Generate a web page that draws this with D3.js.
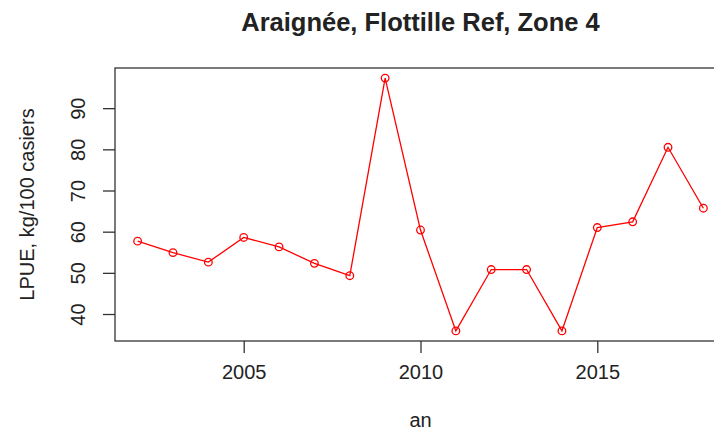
<!DOCTYPE html>
<meta charset="utf-8">
<script src="https://d3js.org/d3.v7.min.js"></script>
<style>
  body { margin: 0; background: #fff; }
  text { font-family: "Liberation Sans", Arial, sans-serif; fill: #222; }
</style>
<div id="my_dataviz"></div>
<script>

// data
var years = [2002, 2003, 2004, 2005, 2006, 2007, 2008, 2009, 2010,
             2011, 2012, 2013, 2014, 2015, 2016, 2017, 2018];
var lpue  = [57.7, 54.9, 52.6, 58.6, 56.3, 52.3, 49.3, 97.3, 60.4,
             35.9, 50.8, 50.8, 35.9, 61.0, 62.4, 80.5, 65.7];
var xTicks = [2005, 2010, 2015];
var yTicks = [40, 50, 60, 70, 80, 90];

var W = 714, H = 432;
// plot box (right edge falls outside the picture, as in the reference)
var margin = {top: 68, left: 115, bottom: 341, right: 726};

var svg = d3.select("#my_dataviz")
  .append("svg")
    .attr("width", W)
    .attr("height", H);

// R style: extend ranges by 4% each side
function rDomain(ext) {
  var pad = (ext[1] - ext[0]) * 0.04;
  return [ext[0] - pad, ext[1] + pad];
}

var x = d3.scaleLinear()
  .domain(rDomain(d3.extent(years)))
  .range([margin.left, margin.right]);

var y = d3.scaleLinear()
  .domain(rDomain(d3.extent(lpue)))
  .range([margin.bottom, margin.top]);

// box
svg.append("rect")
  .attr("x", margin.left)
  .attr("y", margin.top)
  .attr("width", margin.right - margin.left)
  .attr("height", margin.bottom - margin.top)
  .attr("fill", "none")
  .attr("stroke", "#333")
  .attr("stroke-width", 1.3);

// X axis
var xAxis = svg.append("g")
  .attr("transform", "translate(0," + margin.bottom + ")")
  .call(d3.axisBottom(x).tickValues(xTicks).tickFormat(d3.format("d")).tickSize(12).tickSizeOuter(0));
xAxis.select(".domain").remove();
xAxis.selectAll("line").attr("stroke", "#333").attr("stroke-width", 1.3);
xAxis.selectAll("text")
  .attr("y", 24)
  .attr("dy", "0.71em")
  .style("font-size", "20px")
  .style("font-family", "Liberation Sans, Arial, sans-serif")
  .attr("fill", "#222");

// Y axis, labels parallel to the axis
var yAxis = svg.append("g")
  .attr("transform", "translate(" + margin.left + ",0)")
  .call(d3.axisLeft(y).tickValues(yTicks).tickSize(12).tickSizeOuter(0));
yAxis.select(".domain").remove();
yAxis.selectAll("line").attr("stroke", "#333").attr("stroke-width", 1.3);
yAxis.selectAll("text")
  .attr("x", null).attr("dy", null)
  .attr("transform", "translate(-37,0) rotate(-90)")
  .attr("dy", "0.35em")
  .style("text-anchor", "middle")
  .style("font-size", "20px")
  .style("font-family", "Liberation Sans, Arial, sans-serif")
  .attr("fill", "#222");

// line
var pts = years.map(function(d, i) { return [d, lpue[i]]; });
svg.append("path")
  .datum(pts)
  .attr("fill", "none")
  .attr("stroke", "#ff0000")
  .attr("stroke-width", 1.3)
  .attr("d", d3.line()
    .x(function(d) { return x(d[0]); })
    .y(function(d) { return y(d[1]); }));

// open circles
svg.selectAll("circle.pt")
  .data(pts)
  .enter()
  .append("circle")
    .attr("class", "pt")
    .attr("cx", function(d) { return x(d[0]); })
    .attr("cy", function(d) { return y(d[1]); })
    .attr("r", 3.8)
    .attr("fill", "none")
    .attr("stroke", "#ff0000")
    .attr("stroke-width", 1.3);

var plotMid = (margin.left + margin.right) / 2;

// title
svg.append("text")
  .attr("x", plotMid)
  .attr("y", 31)
  .style("text-anchor", "middle")
  .style("font-weight", "bold")
  .style("font-size", "25.5px")
  .text("Araignée, Flottille Ref, Zone 4");

// X axis label
svg.append("text")
  .attr("x", plotMid)
  .attr("y", 427)
  .style("text-anchor", "middle")
  .style("font-size", "20px")
  .text("an");

// Y axis label
svg.append("text")
  .attr("transform", "translate(34," + ((margin.top + margin.bottom) / 2) + ") rotate(-90)")
  .style("text-anchor", "middle")
  .style("font-size", "20px")
  .text("LPUE, kg/100 casiers");

</script>
